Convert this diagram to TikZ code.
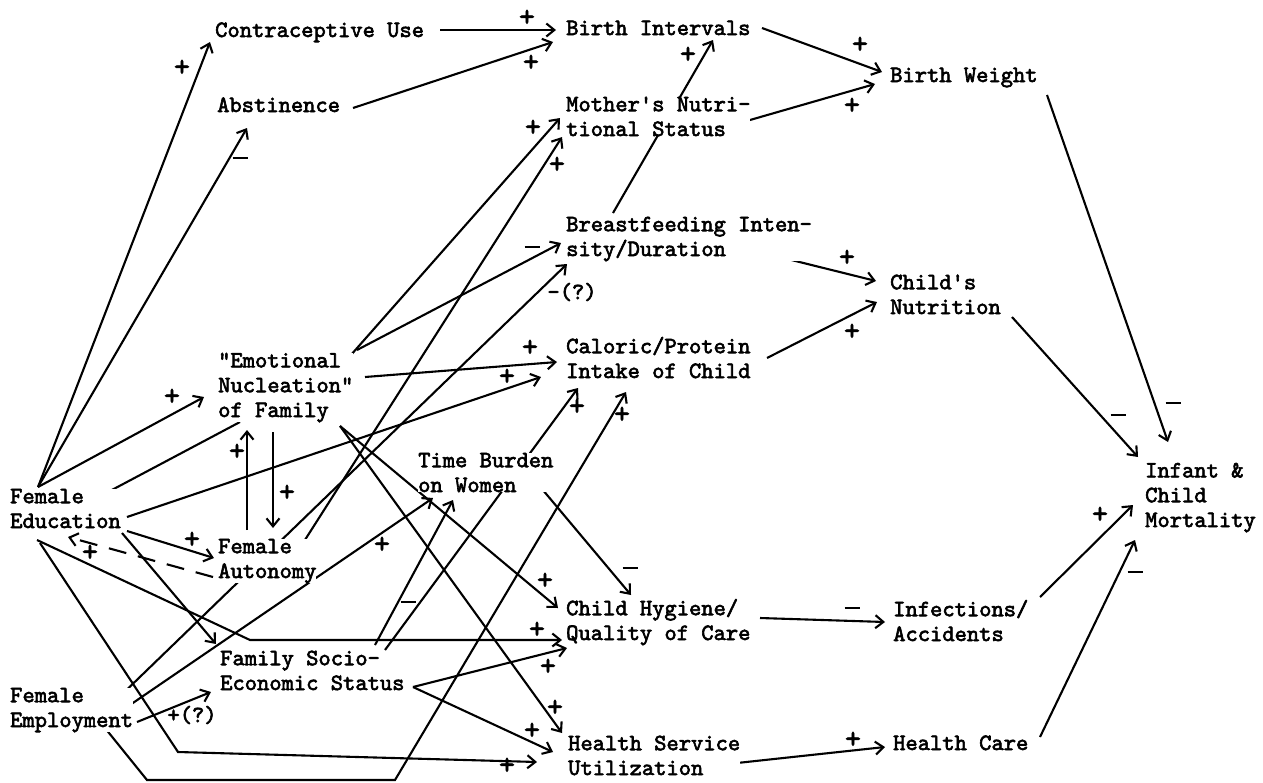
\documentclass[tikz,border=0pt]{standalone}
\usepackage{fontspec}
\setmonofont{lmmono10-regular.otf}[FakeBold=2.6]
\usetikzlibrary{arrows.meta,backgrounds}
\newcommand\typew{\ttfamily\fontsize{23.4pt}{24.8pt}\selectfont}
\newcommand\plusw{\ttfamily\fontsize{30pt}{30pt}\selectfont}
\newcommand\msign{\rule{15pt}{2.4pt}}
\begin{document}
\begin{tikzpicture}[x=1pt,y=-1pt,
  txt/.style={font=\typew,anchor=base west,align=left,inner sep=0pt,fill=white},
  sg/.style={font=\typew,inner sep=0pt},
  pl/.style={font=\plusw,inner sep=0pt},
  link/.style={line width=2.1pt},
  arr/.style={link,-{Straight Barb[length=8pt,width=13pt]}},
  dsh/.style={dash pattern=on 18pt off 12pt}]
\useasboundingbox (0,0) rectangle (1263,782);

% ---------- variables (anchored at the baseline of the last line) ----------
\node[txt] (contra) at (215,37)  {Contraceptive Use};
\node[txt] (abst)   at (217,112) {Abstinence};
\node[txt] (bint)   at (566,35)  {Birth Intervals};
\node[txt] (mns)    at (566,136) {Mother's Nutri-\\tional Status};
\node[txt] (bw)     at (890,82)  {Birth Weight};
\node[txt] (bf)     at (566,256) {Breastfeeding Inten-\\sity/Duration};
\node[txt] (cn)     at (890,314) {Child's\\Nutrition};
\node[txt] (emot)   at (218,417) {"Emotional\\Nucleation"\\of Family};
\node[txt] (calor)  at (566,378) {Caloric/Protein\\Intake of Child};
\node[txt] (tbw)    at (418,492) {Time Burden\\on Women};
\node[txt] (fedu)   at (10,528)  {Female\\Education};
\node[txt] (faut)   at (218,578) {Female\\Autonomy};
\node[txt] (mort)   at (1145,527) {Infant \&\\Child\\Mortality};
\node[txt] (chyg)   at (566,640) {Child Hygiene/\\Quality of Care};
\node[txt] (inf)    at (893,641) {Infections/\\Accidents};
\node[txt] (fses)   at (220,690) {Family Socio-\\Economic Status};
\node[txt] (femp)   at (10,727)  {Female\\Employment};
\node[txt] (hsu)    at (568,775) {Health Service\\Utilization};
\node[txt] (hc)     at (893,750) {Health Care};

% ---------- connector ports ----------
\coordinate (contra-in) at (210,42);   \coordinate (contra-out) at (440,30);
\coordinate (abst-in) at (247,128);    \coordinate (abst-out) at (353,108);
\coordinate (emot-in) at (204,397);    \coordinate (emot-dl) at (240,422);
\coordinate (emot-o1) at (343,364);    \coordinate (emot-o2) at (357,350);
\coordinate (emot-o3) at (365,377);    \coordinate (emot-o4) at (340,426);
\coordinate (emot-up) at (247,430);    \coordinate (emot-dn) at (273,432);
\coordinate (faut-up) at (247,530);    \coordinate (faut-dn) at (273,528);
\coordinate (faut-in) at (214,558);    \coordinate (faut-dash) at (213,577);
\coordinate (faut-o) at (303,543);
\coordinate (bint-in1) at (556,30);    \coordinate (bint-in2) at (553,42);
\coordinate (bint-in3) at (713,40);    \coordinate (bint-out) at (762,28);
\coordinate (mns-in1) at (560,118);    \coordinate (mns-in2) at (562,137);
\coordinate (mns-out) at (750,120);
\coordinate (bw-in1) at (882,72);      \coordinate (bw-in2) at (875,84);
\coordinate (bw-out) at (1047,95);
\coordinate (bf-in1) at (561,243);     \coordinate (bf-in2) at (567,264);
\coordinate (bf-up) at (613,213);      \coordinate (bf-out) at (743,248);
\coordinate (cn-in1) at (876,281);     \coordinate (cn-in2) at (877,302);
\coordinate (cn-out) at (1012,317);
\coordinate (calor-in1) at (557,362);  \coordinate (calor-in2) at (541,377);
\coordinate (calor-in3) at (578,388);  \coordinate (calor-in4) at (626,392);
\coordinate (calor-out) at (767,358);
\coordinate (tbw-in1) at (433,498);    \coordinate (tbw-in2) at (453,500);
\coordinate (tbw-out) at (537,483);
\coordinate (chyg-in1) at (558,608);   \coordinate (chyg-in2) at (631,595);
\coordinate (chyg-in3) at (562,640);   \coordinate (chyg-in4) at (567,648);
\coordinate (chyg-out) at (760,618);
\coordinate (hsu-in1) at (562,733);    \coordinate (hsu-in2) at (553,752);
\coordinate (hsu-in3) at (537,762);    \coordinate (hsu-out) at (737,763);
\coordinate (fses-in1) at (216,644);   \coordinate (fses-in2) at (211,692);
\coordinate (fses-o1) at (375,645);    \coordinate (fses-o2) at (385,650);
\coordinate (fses-o3) at (413,687);
\coordinate (fedu-t) at (38,487);      \coordinate (fedu-e) at (127,517);
\coordinate (fedu-r) at (127,531);     \coordinate (fedu-d) at (122,533);
\coordinate (fedu-b1) at (37,540);     \coordinate (fedu-b2) at (40,543);
\coordinate (fedu-in) at (68,537);     \coordinate (fedu-u) at (93,500);
\coordinate (femp-o1) at (113,703);    \coordinate (femp-o2) at (127,707);
\coordinate (femp-o3) at (137,722);    \coordinate (femp-o4) at (105,728);
\coordinate (inf-in) at (885,622);     \coordinate (inf-out) at (1040,597);
\coordinate (hc-in) at (885,747);      \coordinate (hc-out) at (1040,737);
\coordinate (mort-in1) at (1168,442);  \coordinate (mort-in2) at (1138,457);
\coordinate (mort-in3) at (1133,505);  \coordinate (mort-in4) at (1135,540);
% bends of the routed connectors
\coordinate (k9) at (250,640);   \coordinate (k10) at (178,752);
\coordinate (k11a) at (147,780); \coordinate (k11b) at (395,780);

% ---------- connectors (behind the texts) ----------
\begin{scope}[on background layer]
\fill[white] (0,0) rectangle (1263,782);
\draw[arr] (fedu-t) -- (contra-in);
\draw[arr] (fedu-t) -- (abst-in);
\draw[arr] (fedu-t) -- (emot-in);
\draw[link] (emot-dl) -- (fedu-u);
\draw[arr] (fedu-e) -- (calor-in2);
\draw[arr] (fedu-r) -- (faut-in);
\draw[arr,dsh] (faut-dash) -- (fedu-in);
\draw[arr] (fedu-d) -- (fses-in1);
\draw[arr] (fedu-b1) -- (k9) -- (chyg-in3);
\draw[arr] (fedu-b2) -- (k10) -- (hsu-in3);
\draw[arr] (femp-o4) -- (k11a) -- (k11b) -- (calor-in4);
\draw[arr] (femp-o3) -- (fses-in2);
\draw[arr] (femp-o2) -- (tbw-in1);
\draw[arr] (femp-o1) -- (bf-in2);
\draw[arr] (faut-o) -- (mns-in2);
\draw[arr] (emot-o1) -- (mns-in1);
\draw[arr] (emot-o2) -- (bf-in1);
\draw[arr] (emot-o3) -- (calor-in1);
\draw[arr] (emot-o4) -- (chyg-in1);
\draw[arr] (emot-o4) -- (hsu-in1);
\draw[arr] (faut-up) -- (emot-up);
\draw[arr] (emot-dn) -- (faut-dn);
\draw[arr] (tbw-out) -- (chyg-in2);
\draw[arr] (fses-o1) -- (tbw-in2);
\draw[arr] (fses-o2) -- (calor-in3);
\draw[arr] (fses-o3) -- (chyg-in4);
\draw[arr] (fses-o3) -- (hsu-in2);
\draw[arr] (contra-out) -- (bint-in1);
\draw[arr] (abst-out) -- (bint-in2);
\draw[arr] (bf-up) -- (bint-in3);
\draw[arr] (mns-out) -- (bw-in2);
\draw[arr] (bint-out) -- (bw-in1);
\draw[arr] (bw-out) -- (mort-in1);
\draw[arr] (bf-out) -- (cn-in1);
\draw[arr] (calor-out) -- (cn-in2);
\draw[arr] (cn-out) -- (mort-in2);
\draw[arr] (chyg-out) -- (inf-in);
\draw[arr] (inf-out) -- (mort-in3);
\draw[arr] (hsu-out) -- (hc-in);
\draw[arr] (hc-out) -- (mort-in4);
\end{scope}

% ---------- signs ----------
\node[pl] (s1)  at (182,68)  {+};
\node[sg] (s2)  at (240,158) {\msign};
\node[pl] (s3)  at (172,397) {+};
\node[pl] (s5)  at (507,377) {+};
\node[pl] (s6)  at (192,540) {+};
\node[pl] (s7)  at (90,553)  {+};
\node[pl] (s9)  at (537,630) {+};
\node[pl] (s10) at (507,766) {+};
\node[pl] (s11) at (622,415) {+};
\node[sg] (s12) at (192,715) {+(?)};
\node[pl] (s13) at (382,545) {+};
\node[sg] (s14) at (572,292) {-(?)};
\node[pl] (s15) at (557,165) {+};
\node[pl] (s16) at (533,128) {+};
\node[sg] (s17) at (532,247) {\msign};
\node[pl] (s18) at (530,348) {+};
\node[pl] (s19) at (545,581) {+};
\node[pl] (s20) at (555,708) {+};
\node[pl] (s21) at (237,452) {+};
\node[pl] (s22) at (287,493) {+};
\node[sg] (s23) at (630,568) {\msign};
\node[sg] (s24) at (408,602) {\msign};
\node[pl] (s25) at (577,407) {+};
\node[pl] (s26) at (548,667) {+};
\node[pl] (s27) at (532,731) {+};
\node[pl] (s28) at (527,18)  {+};
\node[pl] (s29) at (531,63)  {+};
\node[pl] (s30) at (688,55)  {+};
\node[pl] (s31) at (852,106) {+};
\node[pl] (s32) at (860,45)  {+};
\node[sg] (s33) at (1173,403) {\msign};
\node[pl] (s34) at (847,258) {+};
\node[pl] (s35) at (852,332) {+};
\node[sg] (s36) at (1118,415) {\msign};
\node[sg] (s37) at (852,608) {\msign};
\node[pl] (s38) at (1100,515) {+};
\node[pl] (s39) at (853,740) {+};
\node[sg] (s40) at (1135,572) {\msign};
\end{tikzpicture}
\end{document}
